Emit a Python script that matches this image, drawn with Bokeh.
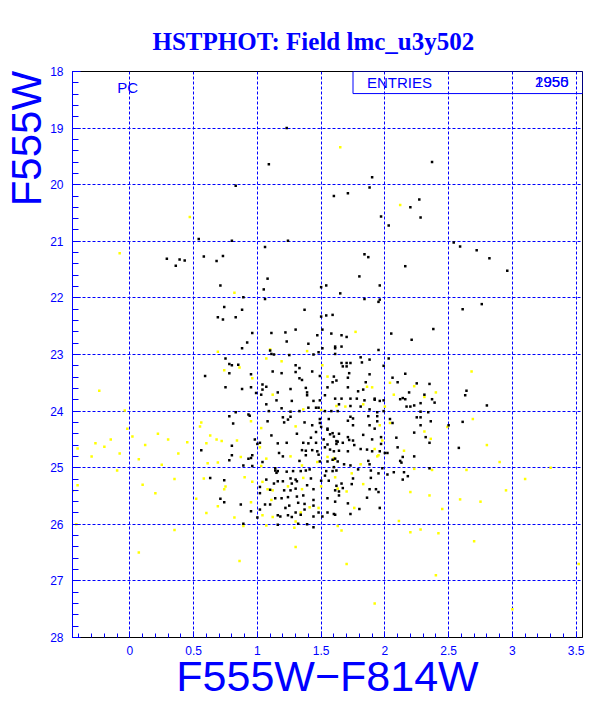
from bokeh.plotting import figure
from bokeh.models import Range1d, FixedTicker, Label
from bokeh.embed import file_html
from bokeh.resources import INLINE
import numpy as np

# ---- data (colour F555W-F814W, magnitude F555W) ----
black_x = [1.23,1.09,2.37,1.90,1.88,0.83,1.60,1.71,2.27,2.20,1.97,2.28,2.03,0.54,0.80,1.24,1.06,2.54,2.59,2.72,2.82,2.96,0.29,0.39,0.43,0.36,0.58,0.73,0.68,1.84,1.87,2.16,1.80,1.08,0.71,1.05,1.50,1.54,1.96,1.65,0.89,1.06,1.84,1.95,1.96,2.76,2.61,0.74,0.88,1.37,
0.69,0.73,0.83,1.54,1.50,0.96,1.11,1.30,1.22,1.47,1.51,0.92,1.23,1.40,0.88,1.51,1.11,1.10,1.13,1.48,1.25,1.44,0.75,0.78,0.80,0.85,1.30,1.33,1.12,1.19,1.30,1.43,0.78,0.95,0.59,1.33,1.35,1.49,1.07,1.04,0.75,0.88,0.95,1.04,0.99,1.16,1.26,1.38,1.39,1.03,1.39,1.15,1.27,1.44,1.49,1.53,1.07,1.19,1.40,1.46,1.48,1.53,1.33,1.09,1.26,0.83,0.78,0.93,0.94,1.08,1.20,1.26,1.24,1.21,1.37,1.49,0.81,1.43,
1.59,2.38,1.58,1.66,1.70,2.05,2.21,1.61,1.61,1.66,1.95,1.61,2.03,1.81,1.88,1.82,1.66,1.70,1.73,1.67,1.70,1.99,1.72,1.88,2.16,1.60,1.71,2.06,1.62,1.59,1.85,2.10,2.25,2.35,1.55,1.71,1.83,1.79,2.19,2.64,2.63,2.31,1.61,1.66,1.73,1.78,1.84,1.92,1.92,1.96,1.99,2.12,2.14,2.16,2.37,2.39,2.23,2.28,2.17,2.20,2.80,1.64,1.73,1.81,1.88,1.58,1.63,1.94,1.99,2.28,2.34,1.56,1.73,1.75,1.71,1.87,1.94,1.94,2.04,2.25,2.28,2.36,2.61,1.55,1.75,1.88,1.92,2.06,2.28,2.50,
0.56,0.80,0.80,0.93,0.96,1.02,1.00,0.98,1.11,1.16,1.23,1.17,1.20,1.31,1.36,1.35,1.42,1.46,1.40,1.38,1.43,1.38,1.46,1.47,1.48,1.52,1.53,1.55,1.57,1.60,1.55,1.57,1.62,1.62,1.60,1.61,1.50,1.49,
1.59,1.63,1.67,1.64,1.71,1.72,1.75,1.76,1.64,1.71,1.83,1.90,1.97,1.97,1.96,1.81,1.86,1.90,2.00,2.02,2.10,2.09,2.23,2.14,2.32,2.35,2.58,2.23,
0.78,0.95,0.89,0.96,1.04,1.14,1.16,1.14,1.23,1.15,1.33,1.34,1.28,1.38,1.41,1.49,1.55,1.54,1.59,1.62,1.53,1.56,0.63,0.74,1.07,1.13,1.16,1.20,1.26,1.30,1.31,1.27,1.42,1.50,1.39,1.02,1.02,1.10,1.21,1.26,1.30,1.44,1.55,1.62,1.64,0.71,0.74,0.87,1.02,1.06,1.10,1.14,1.19,1.24,1.25,1.22,1.32,1.31,1.36,1.37,1.44,1.44,1.37,1.30,1.16,1.18,1.24,1.27,1.34,1.00,0.95,1.44,1.48,1.51,1.55,1.61,1.16,1.32,1.39,1.44,0.89,
1.59,1.63,1.68,1.73,1.60,1.87,1.88,1.79,1.89,1.98,1.75,1.89,1.95,2.02,2.07,2.12,2.13,2.15,2.18,2.14,2.35,1.66,1.74,1.61,1.67,1.88,1.93,1.95,1.64,1.86,1.61,1.71,1.80,1.96,1.60,1.73]
black_y = [19.00,19.64,19.60,19.87,20.05,20.02,20.20,20.15,20.26,20.40,20.56,20.58,20.72,20.96,20.99,20.99,21.10,21.02,21.09,21.16,21.30,21.52,21.31,21.32,21.34,21.43,21.27,21.26,21.35,21.23,21.28,21.44,21.62,21.66,21.78,21.85,21.81,21.78,21.78,21.92,21.99,22.02,22.02,22.07,22.03,22.11,22.20,22.16,22.21,22.21,
22.34,22.38,22.34,22.31,22.33,22.62,22.62,22.56,22.61,22.66,22.56,22.79,22.77,22.81,22.89,22.89,22.99,22.93,23.00,22.96,23.01,23.00,23.07,23.17,23.19,23.18,23.19,23.24,23.30,23.33,23.31,23.30,23.33,23.35,23.38,23.42,23.45,23.38,23.57,23.53,23.58,23.61,23.58,23.62,23.68,23.67,23.61,23.59,23.67,23.71,23.72,23.81,23.82,23.82,23.81,23.72,23.88,23.95,23.94,23.94,23.94,24.00,24.00,24.00,24.01,24.02,24.09,24.06,24.08,24.18,24.11,24.10,24.15,24.20,24.20,24.21,24.22,24.25,
22.30,22.55,22.63,22.66,22.69,22.63,22.74,22.86,22.89,22.86,22.92,22.99,23.07,23.05,23.09,23.14,23.15,23.15,23.15,23.21,23.21,23.20,23.33,23.35,23.34,23.39,23.41,23.41,23.46,23.49,23.49,23.49,23.51,23.52,23.58,23.58,23.62,23.65,23.67,23.64,23.72,23.71,23.78,23.78,23.78,23.78,23.81,23.78,23.80,23.82,23.81,23.79,23.77,23.79,23.79,23.85,23.90,23.86,23.92,23.92,23.90,23.88,23.91,23.92,23.97,24.00,24.00,24.02,24.00,24.01,24.02,24.14,24.10,24.13,24.17,24.09,24.09,24.18,24.14,24.11,24.11,24.18,24.19,24.31,24.25,24.25,24.31,24.21,24.25,24.25,
24.69,24.61,24.78,24.84,24.78,24.56,24.58,24.50,24.43,24.57,24.56,24.74,24.80,24.40,24.56,24.69,24.47,24.37,24.57,24.70,24.69,24.78,24.56,24.71,24.77,24.50,24.64,24.33,24.41,24.45,24.59,24.68,24.53,24.58,24.71,24.84,24.28,24.14,
24.39,24.54,24.56,24.40,24.46,24.51,24.52,24.60,24.70,24.71,24.42,24.50,24.46,24.58,24.71,24.67,24.68,24.71,24.74,24.74,24.64,24.47,24.38,24.81,24.46,24.56,24.65,24.80,
24.87,24.83,24.96,24.97,24.90,25.01,25.06,25.05,25.07,25.09,24.88,25.06,25.06,25.05,25.03,24.89,24.89,25.06,25.06,25.05,25.14,25.23,25.18,25.22,25.21,25.28,25.24,25.24,25.19,25.21,25.24,25.28,25.19,25.23,25.31,25.34,25.45,25.39,25.40,25.40,25.37,25.38,25.54,25.32,25.42,25.55,25.61,25.65,25.74,25.65,25.65,25.54,25.54,25.52,25.67,25.71,25.62,25.51,25.49,25.64,25.57,25.67,25.74,25.79,25.84,25.86,25.84,25.87,25.83,25.88,25.77,25.86,25.79,25.86,25.79,25.83,26.01,25.99,26.00,26.05,25.99,
24.86,24.89,24.94,24.96,24.99,24.88,24.94,25.03,25.05,25.01,25.19,25.18,25.10,25.12,25.08,24.88,24.91,25.08,25.15,25.21,25.01,25.28,25.29,25.40,25.36,25.38,25.38,25.43,25.49,25.53,25.60,25.63,25.73,25.71,25.82,25.82]

yellow_x = [1.65,2.12,0.47,-0.08,0.82,
0.69,1.10,1.39,1.07,1.19,0.86,0.74,0.96,1.12,-0.24,1.36,1.50,-0.04,0.56,0.55,0.95,1.30,1.03,-0.02,
1.77,1.51,2.68,1.55,2.04,1.86,1.90,2.23,2.40,2.31,2.07,1.62,1.69,1.83,2.00,2.69,1.96,2.04,2.49,
0.63,0.68,0.72,0.60,0.84,0.87,1.02,1.07,1.26,1.55,
1.92,1.95,1.60,1.98,2.15,2.31,2.36,
0.61,0.69,1.03,1.35,1.47,1.60,1.61,0.58,0.90,0.96,0.75,0.74,1.04,1.24,1.36,1.08,1.12,1.35,1.50,0.52,0.69,0.95,1.11,1.41,1.34,1.12,1.04,0.82,0.60,1.48,1.07,1.30,1.29,0.89,1.63,
1.81,1.94,1.74,2.23,2.37,2.64,1.83,1.63,1.70,2.20,2.35,2.59,1.76,2.45,2.11,1.66,2.20,2.28,2.42,
-0.41,-0.41,-0.45,-0.42,
-0.27,-0.20,-0.15,-0.08,0.02,0.12,0.22,0.30,0.07,-0.30,0.25,0.35,0.45,0.10,0.38,-0.10,0.20,
0.07,0.86,1.70,1.92,2.40,3.00,3.52,1.30,2.70,0.35,
2.80,2.90,3.10,2.75,2.95,3.30]
yellow_y = [19.34,20.36,20.57,21.21,21.91,
22.95,22.91,22.94,23.07,23.12,23.23,23.28,23.42,23.71,23.64,23.97,23.98,23.99,24.20,24.27,24.18,24.27,24.30,24.31,
22.60,23.19,23.30,23.39,23.50,23.57,23.58,23.56,23.67,23.75,23.71,23.91,23.92,23.88,23.92,24.14,24.25,24.21,24.28,
24.43,24.50,24.53,24.57,24.52,24.81,24.64,24.84,24.80,24.81,
24.67,24.78,24.83,24.52,24.70,24.36,24.49,
24.92,24.91,24.97,24.96,24.90,24.86,25.17,25.19,25.17,25.25,25.33,25.38,25.25,25.33,25.18,25.38,25.40,25.38,25.33,25.55,25.68,25.61,25.57,25.70,25.79,25.87,25.84,25.88,25.80,25.71,26.02,25.95,26.06,26.03,26.03,
24.94,24.80,25.10,25.02,25.04,25.04,25.29,25.37,25.42,25.43,25.49,25.56,25.71,25.73,25.94,26.11,26.14,26.09,26.16,
24.66,25.31,25.41,26.00,
24.57,24.63,24.50,24.75,24.45,24.60,24.40,24.50,24.85,24.80,24.95,25.20,24.55,25.30,24.75,25.05,25.45,
26.50,26.65,26.70,27.40,26.90,27.50,26.70,26.40,26.30,26.10,
24.60,24.90,25.20,25.60,25.40,25.00]

x_ticks = [0, 0.5, 1, 1.5, 2, 2.5, 3, 3.5]
y_ticks = [18, 19, 20, 21, 22, 23, 24, 25, 26, 27, 28]
title_text = "HSTPHOT: Field lmc_u3y502"
xlabel_text = "F555W\u2212F814W"
ylabel_text = "F555W"
entries_a = "1950"
entries_b = "2955"

BLUE = "#0000ff"

p = figure(width=612, height=709, output_backend="svg", toolbar_location=None,
           x_range=Range1d(-0.45, 3.55), y_range=Range1d(28, 18),
           min_border_left=72, min_border_right=30, min_border_top=71, min_border_bottom=72,
           background_fill_color="white", border_fill_color="white")

# title
p.title.text = title_text
p.title.align = "left"
p.title.offset = 80
p.title.standoff = 33
p.title.text_font = "Liberation Serif"
p.title.text_font_style = "bold"
p.title.text_font_size = "25px"
p.title.text_color = BLUE

p.outline_line_color = "black"
p.outline_line_width = 1

# axes
p.xaxis.ticker = FixedTicker(ticks=x_ticks, minor_ticks=[round(v, 2) for v in np.arange(-0.4, 3.55, 0.1)])
p.yaxis.ticker = FixedTicker(ticks=y_ticks, minor_ticks=[round(v, 2) for v in np.arange(18, 28.01, 0.2)])
for ax in (p.xaxis[0], p.yaxis[0]):
    ax.major_tick_out = 0
    ax.minor_tick_out = 0
    ax.major_tick_line_color = BLUE
    ax.minor_tick_line_color = BLUE
    ax.major_label_text_color = BLUE
    ax.major_label_text_font = "Liberation Sans"
    ax.major_label_text_font_size = "12px"
    ax.axis_label_text_font = "Liberation Sans"
    ax.axis_label_text_font_style = "normal"
    ax.axis_label_text_color = BLUE
p.xaxis.major_tick_in = 6
p.xaxis.minor_tick_in = 4
p.yaxis.major_tick_in = 8
p.yaxis.minor_tick_in = 6
p.xaxis.axis_line_color = "black"
p.yaxis.axis_line_color = BLUE
p.xaxis.major_label_standoff = 8
p.yaxis.major_label_standoff = 9

p.xaxis.axis_label = xlabel_text
p.xaxis.axis_label_text_font_size = "43px"
p.xaxis.axis_label_standoff = -6

# y label sits at the top end of the axis: pad its start with non-breaking spaces
p.yaxis.axis_label = "\u00a0" * 37 + ylabel_text
p.yaxis.axis_label_text_font_size = "42px"
p.yaxis.axis_label_standoff = -3

p.grid.grid_line_color = BLUE
p.grid.grid_line_dash = "3 2"
p.grid.grid_line_width = 1

# points
p.scatter(yellow_x, yellow_y, marker="square", size=2.5, color="#ffff00", line_width=0)
p.scatter(black_x, black_y, marker="square", size=2.5, color="black", line_width=0)

# entries box
p.quad(left=1.75, right=3.55, top=18.0, bottom=18.39, fill_color=None, line_color=BLUE, line_width=1)

def lab(x, y, t, size, align="left"):
    p.add_layout(Label(x=x, y=y, text=t, text_font_size=size, text_color=BLUE, text_align=align,
                       text_baseline="middle", text_font="Liberation Sans"))

lab(-0.10, 18.28, "PC", "15px")
lab(1.86, 18.19, "ENTRIES", "15px")
lab(3.44, 18.19, entries_a, "15px", align="right")
lab(3.44, 18.19, entries_b, "15px", align="right")

open("out.html", "w").write(file_html(p, INLINE))
